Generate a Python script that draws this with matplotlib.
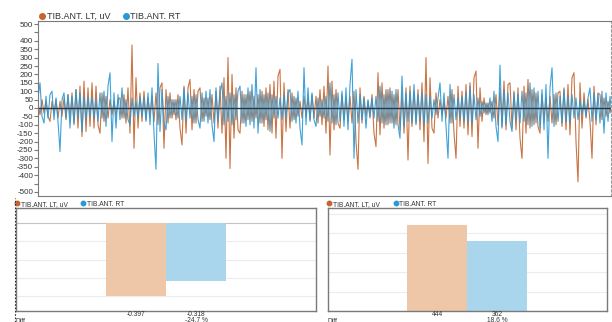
import numpy as np
import matplotlib
matplotlib.use("Agg")
import matplotlib.pyplot as plt
from matplotlib.lines import Line2D

plt.rcParams["font.family"] = ["Liberation Sans", "DejaVu Sans"]

# --- data ---------------------------------------------------------------
series_names = ["TIB.ANT. LT, uV", "TIB.ANT. RT"]

# raw signal, uV (288 samples each)
lt_signal = [
    30, -40, 50, -30, 40, -50, -80, 40, -30, 50, -60, 40, -50, 60, -70, 80, -60, 90, -100, 110, -120, 130, -170, 160,
    -140, 120, -110, 150, -120, 130, -100, -150, 90, -80, 70, -60, 50, -40, 40, -50, 50, 60, -60, 80, -90, 120, -150, 375,
    -240, 180, -120, 90, -80, 100, -70, 60, -50, 70, -80, 90, -100, 120, 150, -240, 110, -90, 90, -60, 50, -70, 80, -120,
    -220, 130, -150, 120, 170, -130, 110, -90, 100, 120, -80, 60, -50, 60, -70, 80, -90, 100, -120, 130, -150, 180, -300, 300,
    -360, 200, -180, 120, -130, -150, 100, -90, 80, -70, 100, -80, 70, -60, 80, -90, 100, -110, 120, -130, 140, -150, 160, -180,
    190, 230, -300, 150, -140, 110, -120, 90, -70, 60, -50, 40, -60, 70, -50, 60, -70, 80, -60, 70, -90, 110, -100, 130,
    -150, 250, -280, 160, -130, 110, -90, -120, 80, -70, 60, -80, 70, -90, 100, -200, -365, 120, -90, 70, -50, 40, -60, 80,
    -150, -230, 210, -160, 150, -120, 110, -100, 120, -90, 80, -100, 110, -130, 90, -150, 120, -310, 130, -110, 100, -90, 110, -130,
    150, -200, 300, -330, 180, -120, -150, 90, -60, 50, -40, 40, -60, 70, -90, 110, -150, -300, 130, -110, 100, -120, 140, -160,
    150, -170, 180, 220, -240, 120, -80, 60, -40, 30, -30, 40, -60, 80, -100, 120, -110, 160, -130, 140, 150, -120, 100, -130,
    120, -180, -300, 130, -150, 170, -120, 110, -100, 90, -110, -150, 80, -70, 60, -80, 70, -90, 80, -100, 90, 100, -110, 120,
    -130, 140, -160, 180, 210, -200, -440, 150, -120, 90, -60, 50, -80, -300, 130, -100, 90, 80, -70, 60, -50, 40, -30, 30,
]
rt_signal = [
    60, 150, -50, -90, 70, -60, 80, 100, -70, 60, -80, -260, 50, 90, -60, 80, -120, 70, -90, 110, -60, 90, -140, 70,
    -70, 60, -50, 70, -60, 50, -80, 90, -60, 100, -110, 130, 210, -200, 90, -120, 80, -70, 120, -60, 50, -70, -100, 60,
    -50, 40, -60, 70, -50, 60, -80, 90, -100, 120, -150, -365, 265, -140, 110, -90, -130, 70, -60, 50, -40, 50, -60, 70,
    -70, 120, -80, 90, -60, 70, -90, 80, -70, -120, 90, -80, 100, -90, 110, -100, -200, 120, -80, 90, 150, -100, 70, -80,
    90, -100, 80, -70, 100, 130, -90, 80, -110, 120, -100, 140, -120, 240, -150, 110, -90, 80, -70, 90, -140, 80, -60, 70,
    -60, 60, -70, 80, -60, 90, 110, -80, 70, -90, 100, -120, -220, 240, -100, 120, -80, 90, -70, -110, 60, -50, 50, -60,
    70, -80, 150, -90, 80, -100, 90, -80, 100, -110, 120, -130, 140, 290, -300, 110, -90, 80, -70, 60, -120, 50, -50, 60,
    -60, 70, -80, 130, -90, 80, -100, 110, -90, 100, -120, 110, -100, -180, 190, -110, 90, -80, 100, -90, 140, -100, 80, -70,
    90, -100, 80, -90, 70, -60, 50, -40, 60, 150, -80, 90, -110, -300, 140, -90, 80, -70, 60, -60, 70, -80, 90, -90,
    130, -90, 80, -70, 60, -50, 40, -30, 30, -40, 60, -80, 100, -110, -200, 255, -120, 110, -100, 90, -80, -140, 90, -70,
    80, -90, 100, -80, 90, -100, 150, -110, 120, -90, 100, -120, 110, -130, 140, -300, 120, 240, -110, 90, -80, 70, -90, 110,
    -80, 70, -90, 80, -60, 60, -70, 50, -40, 40, -50, 60, 120, -80, 90, -70, 80, -90, 100, -150, 90, -80, 70, -60,
]

# summary panels
mean_values = [-0.397, -0.318]
mean_diff = "-24.7 %"
peak_values = [444, 362]
peak_diff = "18.6 %"

# --- style --------------------------------------------------------------
c_lt = "#C4652F"
c_rt = "#2A98D5"
c_lt_bar = "#EEC6A8"
c_rt_bar = "#A9D6EC"
frame = "#7a7a7a"
txt = "#333333"

fig = plt.figure(figsize=(6.12, 3.22), dpi=100)

# --- main trace ---------------------------------------------------------
ax = fig.add_axes([38 / 612, 1 - 196 / 322, 573 / 612, 175 / 322])
x = np.arange(len(lt_signal))
ax.plot(x, lt_signal, color=c_lt, lw=0.8, alpha=0.9)
ax.plot(x, rt_signal, color=c_rt, lw=0.8, alpha=0.9)
ax.axhline(0, color="#1d3a55", lw=1.0)
ax.set_xlim(0, len(lt_signal) - 1.5)
ax.set_ylim(-524, 518)
ticks = np.arange(-500, 501, 50)
ax.set_yticks(ticks)
ax.set_yticklabels(["" if abs(t) == 450 else str(t) for t in ticks])
ax.tick_params(axis="y", labelsize=5.8, length=3, color=frame, labelcolor=txt, pad=0.5)
ax.set_xticks([])
for s in ["top", "left", "bottom"]:
    ax.spines[s].set_color(frame)
ax.spines["right"].set_color("#999999")
ax.spines["right"].set_linestyle((0, (2, 2)))

handles = [Line2D([], [], marker="o", ls="", color=c, markersize=4) for c in (c_lt, c_rt)]
ax.legend(handles, series_names, loc="lower left", bbox_to_anchor=(-0.003, 0.995), ncol=2,
          frameon=False, fontsize=6.5, handletextpad=0.05, columnspacing=1.2,
          handlelength=1.0, borderaxespad=0, borderpad=0.1, labelcolor=txt)


def summary(rect, values, diff, xlim, ylim, grid, label_fmt):
    b = fig.add_axes(rect)
    b.bar([0, 1], values, width=1.0, color=[c_lt_bar, c_rt_bar], zorder=2)
    b.set_xlim(*xlim)
    b.set_ylim(*ylim)
    for g in grid:
        b.axhline(g, color="#ececec", lw=0.8, zorder=1)
    b.axhline(0, color="#c4c4c4", lw=0.8, zorder=1)
    b.set_xticks([])
    b.set_yticks([])
    for s in b.spines.values():
        s.set_color(frame)
        s.set_linewidth(1.0)
    for i, v in enumerate(values):
        b.annotate(label_fmt(v), xy=(i, 0), xycoords=("data", "axes fraction"),
                   xytext=(0, -0.3), textcoords="offset points", ha="center", va="top",
                   fontsize=4.8, color=txt)
    b.annotate(diff, xy=(1, 0), xycoords=("data", "axes fraction"),
               xytext=(0, -4.4), textcoords="offset points", ha="center", va="top",
               fontsize=4.8, color=txt)
    b.annotate("Diff", xy=(0, 0), xycoords="axes fraction",
               xytext=(0, -4.8), textcoords="offset points", ha="left", va="top",
               fontsize=4.8, color=txt)
    h = [Line2D([], [], marker="o", ls="", color=c, markersize=3.2) for c in (c_lt, c_rt)]
    b.legend(h, series_names, loc="lower left", bbox_to_anchor=(-0.008, 1.0), ncol=2,
             frameon=False, fontsize=4.8, handletextpad=0.0, columnspacing=1.9,
             handlelength=1.0, borderaxespad=0, borderpad=0.05, labelcolor=txt)
    return b


summary([16 / 612, 1 - 311 / 322, 300 / 612, 103 / 322], mean_values, mean_diff,
        (-2, 3), (-0.481, 0.082), [-0.1, -0.2, -0.3, -0.4], lambda v: f"{v:.3f}")
summary([328 / 612, 1 - 311 / 322, 279 / 612, 103 / 322], peak_values, peak_diff,
        (-1.82, 2.83), (0, 531), [100, 200, 300, 400, 500], lambda v: f"{v}")

# dotted separator on the left of the lower panels
fig.add_artist(Line2D([15 / 612, 15 / 612], [0, 1 - 198 / 322], color=txt,
                      lw=0.8, ls=(0, (1.5, 1.5))))

fig.savefig("out.png", dpi=100)
